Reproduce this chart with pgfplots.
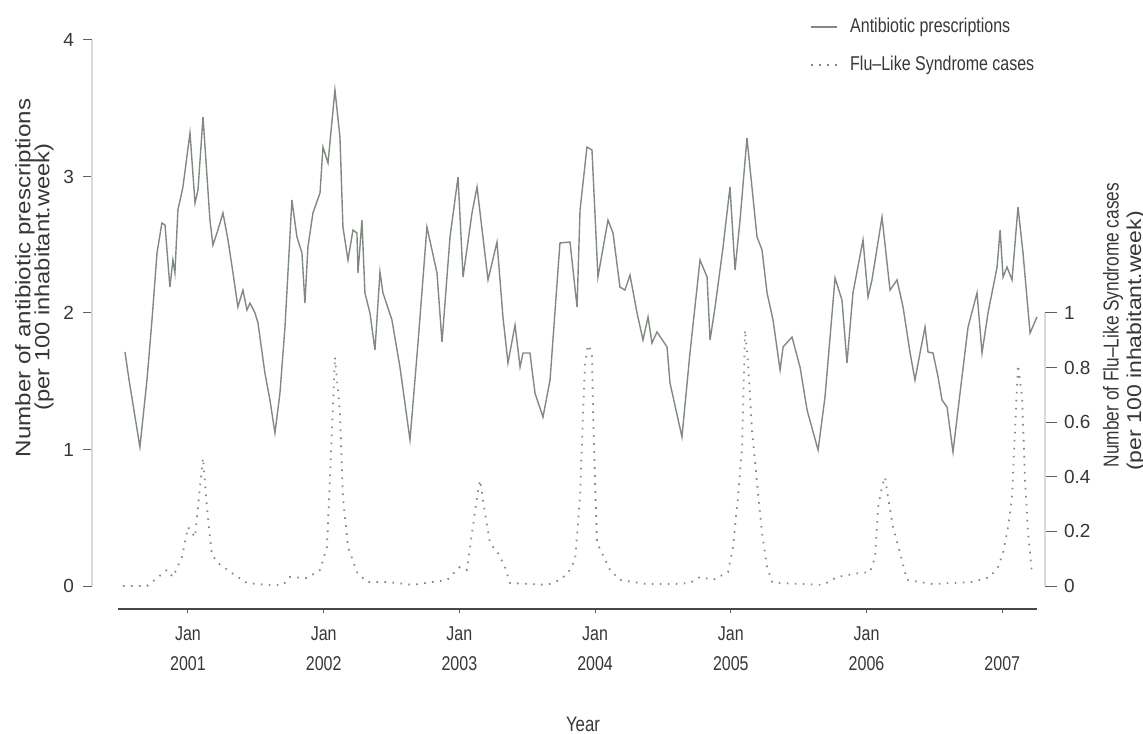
\documentclass[border=0pt]{standalone}
\usepackage{fontspec}
\setmainfont{Liberation Sans}
\newfontfamily\narrowfont[FakeStretch=0.8]{Liberation Sans}
\newfontfamily\widefont[FakeStretch=1.15]{Liberation Sans}
\usepackage{pgfplots}
\usepackage{pgfplotstable}
\pgfplotsset{compat=1.18}
\definecolor{abx}{RGB}{128,138,128}
\definecolor{flu}{RGB}{135,138,135}
\definecolor{txt}{RGB}{55,55,55}
\definecolor{axl}{RGB}{212,220,220}
\definecolor{tck}{RGB}{95,95,95}

\pgfplotstableread{
x y
2000.536 1.714
2000.565 1.516
2000.646 1.018
2000.698 1.509
2000.735 1.949
2000.772 2.440
2000.808 2.659
2000.831 2.645
2000.867 2.190
2000.889 2.388
2000.904 2.293
2000.926 2.755
2000.963 2.923
2001.015 3.319
2001.052 2.806
2001.074 2.901
2001.111 3.436
2001.162 2.681
2001.184 2.498
2001.221 2.608
2001.258 2.733
2001.295 2.535
2001.332 2.293
2001.368 2.044
2001.405 2.168
2001.435 2.022
2001.457 2.073
2001.494 2.000
2001.516 1.927
2001.567 1.560
2001.604 1.363
2001.641 1.121
2001.678 1.414
2001.715 1.897
2001.766 2.828
2001.803 2.557
2001.840 2.440
2001.862 2.073
2001.884 2.484
2001.921 2.733
2001.973 2.879
2001.995 3.216
2002.032 3.099
2002.083 3.634
2002.120 3.289
2002.142 2.630
2002.179 2.388
2002.216 2.608
2002.245 2.586
2002.253 2.293
2002.282 2.681
2002.304 2.147
2002.341 2.000
2002.378 1.729
2002.415 2.300
2002.437 2.147
2002.503 1.949
2002.562 1.604
2002.636 1.070
2002.695 1.780
2002.761 2.630
2002.835 2.293
2002.872 1.788
2002.931 2.557
2002.990 2.996
2003.027 2.264
2003.093 2.733
2003.130 2.923
2003.211 2.242
2003.277 2.520
2003.321 1.971
2003.358 1.634
2003.410 1.912
2003.447 1.604
2003.469 1.707
2003.520 1.707
2003.557 1.414
2003.616 1.238
2003.668 1.509
2003.741 2.513
2003.815 2.520
2003.867 2.044
2003.889 2.755
2003.940 3.216
2003.977 3.194
2004.021 2.264
2004.095 2.681
2004.132 2.586
2004.183 2.190
2004.220 2.168
2004.257 2.278
2004.309 2.000
2004.353 1.802
2004.390 1.971
2004.419 1.780
2004.456 1.861
2004.530 1.751
2004.552 1.487
2004.640 1.092
2004.699 1.707
2004.773 2.388
2004.825 2.264
2004.847 1.802
2004.884 2.044
2004.943 2.484
2004.994 2.923
2005.031 2.315
2005.068 2.681
2005.119 3.282
2005.193 2.557
2005.230 2.462
2005.267 2.147
2005.311 1.949
2005.363 1.582
2005.385 1.751
2005.451 1.824
2005.510 1.604
2005.562 1.289
2005.643 0.996
2005.694 1.385
2005.768 2.256
2005.819 2.095
2005.856 1.634
2005.900 2.147
2005.974 2.535
2006.011 2.117
2006.040 2.242
2006.114 2.703
2006.173 2.168
2006.225 2.242
2006.269 2.044
2006.321 1.707
2006.357 1.509
2006.394 1.707
2006.431 1.897
2006.453 1.714
2006.490 1.707
2006.527 1.531
2006.556 1.363
2006.593 1.311
2006.637 0.982
2006.689 1.414
2006.748 1.897
2006.814 2.147
2006.851 1.707
2006.895 2.000
2006.962 2.337
2006.984 2.608
2007.006 2.264
2007.035 2.337
2007.072 2.242
2007.116 2.777
2007.153 2.440
2007.205 1.853
2007.256 1.971
}\abxdata

\pgfplotstableread{
x y
2000.521 0.000
2000.698 0.000
2000.772 0.029
2000.845 0.059
2000.889 0.033
2000.956 0.106
2001.000 0.216
2001.052 0.179
2001.088 0.359
2001.111 0.469
2001.140 0.289
2001.162 0.179
2001.177 0.114
2001.221 0.084
2001.346 0.040
2001.435 0.011
2001.582 0.004
2001.700 0.004
2001.752 0.033
2001.877 0.029
2001.973 0.059
2002.024 0.143
2002.046 0.388
2002.061 0.571
2002.083 0.839
2002.120 0.634
2002.142 0.326
2002.179 0.143
2002.245 0.051
2002.319 0.015
2002.466 0.015
2002.658 0.004
2002.805 0.015
2002.909 0.022
2003.004 0.070
2003.056 0.059
2003.093 0.194
2003.130 0.326
2003.152 0.388
2003.189 0.267
2003.225 0.158
2003.284 0.121
2003.336 0.070
2003.373 0.011
2003.646 0.004
2003.741 0.022
2003.800 0.048
2003.852 0.095
2003.889 0.326
2003.911 0.634
2003.926 0.817
2003.948 0.883
2003.977 0.853
2003.985 0.634
2003.999 0.388
2004.014 0.158
2004.051 0.121
2004.110 0.059
2004.183 0.022
2004.382 0.007
2004.574 0.007
2004.699 0.011
2004.773 0.033
2004.869 0.022
2004.979 0.051
2005.016 0.143
2005.053 0.326
2005.083 0.509
2005.105 0.938
2005.127 0.817
2005.156 0.571
2005.193 0.377
2005.230 0.194
2005.267 0.070
2005.304 0.015
2005.363 0.011
2005.679 0.004
2005.783 0.033
2005.952 0.048
2006.026 0.051
2006.063 0.106
2006.085 0.289
2006.114 0.363
2006.136 0.399
2006.158 0.326
2006.195 0.216
2006.247 0.121
2006.298 0.022
2006.490 0.007
2006.785 0.015
2006.910 0.033
2006.969 0.070
2007.006 0.121
2007.043 0.216
2007.072 0.326
2007.094 0.571
2007.116 0.810
2007.146 0.692
2007.168 0.388
2007.190 0.194
2007.219 0.048
}\fludata

\begin{document}
\begin{tikzpicture}
\path[use as bounding box] (0,0) rectangle (571.5pt,366.5pt);
\begin{axis}[
  scale only axis, width=476.5pt, height=284.5pt,
  at={(46pt,62pt)}, anchor=south west,
  xmin=2000.293, xmax=2007.315, ymin=-0.1685, ymax=4,
  axis line style={draw=none},
  clip=false,
  tick align=outside, major tick length=4.5pt,
  xtick pos=bottom, ytick pos=left,
  tick style={tck, line width=0.5pt},
  xtick={2001,2002,2003,2004,2005,2006,2007},
  xticklabels={{Jan\\2001},{Jan\\2002},{Jan\\2003},{Jan\\2004},{Jan\\2005},{Jan\\2006},{\phantom{Jan}\\2007}},
  xticklabel style={align=center, font=\narrowfont\fontsize{10}{15}\selectfont, text=txt, yshift=-1pt},
  xtick style={/pgfplots/major tick length=2pt},
  ytick={0,1,2,3,4},
  yticklabel style={font=\fontsize{9.5}{10}\selectfont, text=txt, xshift=-1pt},
  /pgf/number format/assume math mode=true,
  legend cell align=left,
  legend style={draw=none, fill=none, at={(axis description cs:0.7534,1.040)}, anchor=north west,
    inner sep=0pt, row sep=9.5pt, column sep=6pt,
    nodes={inner sep=0pt, text height=7.5pt, text depth=2pt},
    font=\narrowfont\fontsize{10}{10}\selectfont, text=txt},
  legend image code/.code={\draw[#1] (0pt,0pt) -- (13pt,0pt);},
]
\draw[axl, line width=0.6pt] (axis cs:2000.293,0) -- (axis cs:2000.293,4);
\draw[black!72, line width=0.9pt] (axis cs:2000.484,-0.1685) -- (axis cs:2007.256,-0.1685);
\addplot[abx, line width=0.7pt] table[x=x,y=y]{\abxdata};
\addlegendentry{Antibiotic prescriptions}
\addlegendimage{flu, line width=0.9pt, dash pattern=on 0.8pt off 3.2pt}
\addlegendentry{Flu–Like Syndrome cases}
\end{axis}
\begin{axis}[
  scale only axis, width=476.5pt, height=284.5pt,
  at={(46pt,62pt)}, anchor=south west,
  xmin=2000.293, xmax=2007.315, ymin=-0.08425, ymax=2,
  axis line style={draw=none},
  clip=false,
  xtick=\empty,
  tick align=outside, major tick length=6pt,
  ytick pos=right,
  tick style={tck, line width=0.5pt},
  ytick={0,0.2,0.4,0.6,0.8,1},
  yticklabels={0,0.2,0.4,0.6,0.8,1},
  yticklabel style={font=\fontsize{9.5}{10}\selectfont, text=txt, xshift=0pt},
]
\draw[axl, line width=0.6pt] (axis cs:2007.315,0) -- (axis cs:2007.315,1);
\addplot[flu, line width=0.9pt, dash pattern=on 0.8pt off 3.2pt] table[x=x,y=y]{\fludata};
\end{axis}
% axis titles
\node[rotate=90, text=txt, font=\widefont\fontsize{10.5}{10.5}\selectfont] at (12.5pt,227.5pt) {Number of antibiotic prescriptions};
\node[rotate=90, text=txt, font=\widefont\fontsize{10.3}{10.3}\selectfont] at (22pt,228pt) {(per 100 inhabitant.week)};
\node[rotate=90, text=txt, font=\narrowfont\fontsize{10.8}{10.8}\selectfont] at (556.5pt,204pt) {Number of Flu–Like Syndrome cases};
\node[rotate=90, text=txt, font=\widefont\fontsize{10}{10}\selectfont] at (568pt,196pt) {(per 100 inhabitant.week)};
\node[text=txt, font=\narrowfont\fontsize{10.5}{10.5}\selectfont] at (291.5pt,4.5pt) {Year};
\end{tikzpicture}
\end{document}
